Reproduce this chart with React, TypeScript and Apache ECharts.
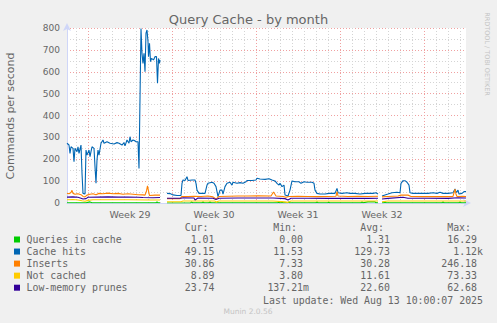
import React, { useEffect, useRef } from "react";
import * as echarts from "echarts";

// x values: hours since Monday 00:00 of week 29
const weekLabels = ["Week 29", "Week 30", "Week 31", "Week 32"];
const weekCenters = [84, 252, 420, 588];

type Pt = [number, number | null];

const cacheHits: Pt[] = [
  [-42, 273], [-38, 265], [-36, 227], [-34, 257], [-30, 250], [-28, 189], [-26, 250], [-22, 235], [-20, 257], [-18, 227],
  [-14, 265], [-12, 136], [-10, 44], [-6, 41], [-4, 242], [-2, 219], [2, 242], [4, 212], [6, 235], [8, 257], [12, 250],
  [14, 166], [16, 90], [18, 197], [20, 242], [22, 219], [26, 273], [30, 288], [32, 273], [38, 280], [44, 273], [52, 270],
  [58, 276], [62, 273], [68, 265], [72, 276], [74, 261], [78, 288], [82, 273], [84, 303], [86, 280], [90, 288], [94, 284],
  [96, 280], [100, 280], [102, 158], [106, 798], [108, 684], [110, 638], [112, 684], [114, 600], [116, 776], [118, 791],
  [120, 737], [121, 669], [123, 730], [125, 646], [127, 661], [131, 654], [134, 669], [137, 669], [139, 547], [141, 661],
  [143, 638], [144, 654], [150, null],
  [158, 44], [164, 43], [170, 37], [178, 34], [186, 34], [188, 90], [190, 105], [194, 103], [198, 120], [200, 103],
  [208, 105], [214, 105], [216, 90], [218, 59], [222, 44], [228, 44], [234, 44], [238, 82], [240, 90], [248, 95],
  [252, 90], [256, 75], [260, 29], [262, 44], [264, 59], [268, 59], [270, 41], [274, 75], [278, 90], [284, 95], [288, 82],
  [290, 95], [298, 90], [304, 93], [310, 90], [316, 97], [318, 103], [328, 103], [336, 105], [338, 113], [344, 110],
  [354, 108], [362, 111], [368, 105], [374, 101], [378, 90], [382, 82], [384, 90], [388, 75], [392, 82], [394, 37],
  [400, 32], [404, 59], [408, 101], [414, 97], [422, 97], [426, 90], [432, 97], [438, 95], [448, 95], [452, 90], [454, 59],
  [458, 44], [464, 41], [474, 41], [482, 44], [488, 44], [494, 44], [498, 67], [500, 47], [508, 44], [518, 47], [524, 44],
  [534, 44], [544, 41], [554, 44], [564, 44], [570, 44], [576, 47], [580, 41], [584, null],
  [588, 32], [594, 37], [600, 41], [608, 47], [618, 49], [624, 47], [626, 90], [630, 102], [634, 102], [638, 95], [642, 82],
  [644, 47], [650, 44], [660, 44], [670, 44], [680, 44], [690, 47], [698, 44], [704, 49], [710, 44], [720, 44], [730, 47],
  [734, 64], [736, 47], [740, 59], [742, 41], [748, 44], [752, 52], [756, 52],
];

const inserts: Pt[] = [
  [-42, 45], [-38, 42], [-34, 48], [-32, 58], [-30, 44], [-26, 40], [-20, 42], [-14, 38], [-10, 30], [-6, 28], [-2, 36],
  [4, 40], [10, 42], [16, 38], [22, 44], [30, 42], [40, 45], [50, 42], [60, 44], [70, 40], [80, 42], [90, 40], [100, 38],
  [110, 37], [114, 36], [117, 55], [119, 78], [121, 55], [123, 34], [134, 36], [144, 36], [150, null],
  [158, 20], [170, 20], [184, 20], [188, 30], [200, 30], [212, 31], [226, 30], [240, 32], [250, 28], [256, 18], [262, 30],
  [280, 31], [300, 32], [320, 32], [340, 33], [366, 32], [371, 50], [376, 32], [390, 30], [396, 26], [402, 30], [420, 31],
  [440, 30], [460, 29], [480, 30], [496, 31], [498, 52], [500, 32], [520, 30], [540, 31], [560, 30], [580, 31], [584, null],
  [588, 28], [600, 30], [620, 32], [626, 36], [640, 36], [646, 30], [670, 29], [700, 30], [720, 29], [730, 30], [734, 63],
  [736, 40], [738, 30], [750, 31], [756, 30],
];

const notCached: Pt[] = [
  [-42, 15], [-30, 16], [-20, 14], [-12, 10], [-6, 8], [0, 12], [10, 15], [40, 15], [80, 15], [120, 14], [144, 14], [150, null],
  [158, 6], [186, 6], [190, 9], [220, 9], [254, 9], [256, 4], [262, 9], [300, 9], [370, 9], [394, 5], [400, 3], [406, 9],
  [500, 9], [580, 9], [584, null],
  [588, 6], [600, 9], [700, 9], [756, 9],
];

const prunes: Pt[] = [
  [-42, 27], [-30, 28], [-20, 26], [-14, 22], [-10, 18], [-4, 20], [0, 26], [20, 27], [40, 28], [60, 27], [80, 27],
  [100, 26], [110, 25], [130, 24], [144, 25], [150, null],
  [158, 22], [186, 22], [190, 24], [212, 23], [214, 14], [220, 23], [250, 22], [256, 16], [262, 22], [300, 23], [340, 23],
  [370, 23], [394, 20], [400, 14], [406, 22], [440, 22], [480, 21], [520, 22], [560, 21], [580, 22], [584, null],
  [588, 18], [600, 21], [630, 26], [640, 22], [680, 22], [720, 21], [740, 24], [756, 23],
];

const queriesInCache: Pt[] = [
  [-42, 1], [-4, 1], [4, 5], [8, 1], [136, 1], [138, 5], [140, 1], [144, 1], [150, null],
  [158, 0], [205, 0], [207, 5], [209, 1], [228, 1], [230, 5], [232, 1], [242, 1], [244, 5], [246, 1], [380, 1], [381, 5],
  [383, 1], [387, 1], [388, 5], [390, 1], [400, 1], [401, 5], [403, 1], [456, 1], [458, 5], [460, 1], [480, 1], [481, 5],
  [483, 1], [546, 1], [548, 5], [550, 1], [560, 5], [567, 5], [574, 5], [576, 1], [580, 1], [584, null],
  [588, 1], [592, 1], [594, 5], [596, 1], [708, 1], [710, 5], [712, 1], [742, 1], [744, 5], [746, 1], [756, 1],
];

const seriesNames = ["Queries in cache", "Cache hits", "Inserts", "Not cached", "Low-memory prunes"];
const seriesColors = ["#00cc00", "#0066b3", "#ff8000", "#ffcc00", "#330099"];
const seriesData = [queriesInCache, cacheHits, inserts, notCached, prunes];

const curValues = ["1.01", "49.15", "30.86", "8.89", "23.74"];
const minValues = ["0.00", "11.53", "7.33", "3.80", "137.21m"];
const avgValues = ["1.31", "129.73", "30.28", "11.61", "22.60"];
const maxValues = ["16.29", "1.12k", "246.18", "73.33", "62.68"];
const columnHeaders = ["Cur:", "Min:", "Avg:", "Max:"];

const FONT = "DejaVu Sans, sans-serif";
const MONO = "DejaVu Sans Mono, monospace";
const TXT = "#666666";

function txt(x: number, y: number, text: string, size: number, opts: any = {}) {
  const align = opts.align || "left";
  return {
    type: "text",
    x,
    y,
    rotation: opts.rotation || 0,
    silent: true,
    style: {
      text,
      fill: opts.color || TXT,
      fontSize: size,
      fontFamily: opts.family || FONT,
      align,
      textAlign: align,
      verticalAlign: "middle",
      textVerticalAlign: "middle",
    },
  };
}

export default function App() {
  const ref = useRef<HTMLDivElement>(null);
  useEffect(() => {
    if (!ref.current) return;
    const chart = echarts.init(ref.current, null, { renderer: "svg" });

    // x split lines every 6 h from -42: day lines at i%4==3, week lines at i%28==7
    const xGridColors: string[] = [];
    for (let i = 0; i < 28; i++) {
      xGridColors.push(i === 7 ? "#f0a0a0" : i % 4 === 3 ? "#d4d4d4" : "rgba(0,0,0,0)");
    }

    const graphic: any[] = [];
    graphic.push(txt(248.5, 19, "Query Cache - by month", 13, { align: "center" }));
    graphic.push(txt(10, 116, "Commands per second", 11, { align: "center", rotation: Math.PI / 2 }));
    graphic.push(txt(487, 54, "RRDTOOL / TOBI OETIKER", 6.5, { align: "center", rotation: -Math.PI / 2, color: "#c4c4c4" }));
    graphic.push(txt(248, 311.5, "Munin 2.0.56", 7.5, { align: "center", color: "#c4c4c4" }));

    const colRight = [214.5, 303, 390, 477];
    const headerY = 227.5;
    columnHeaders.forEach((h, i) => {
      graphic.push(txt(colRight[i] - 6, headerY, h, 9.9, { align: "right", family: MONO }));
    });
    const cols = [curValues, minValues, avgValues, maxValues];
    seriesNames.forEach((name, r) => {
      const y = 239.5 + r * 12.05;
      graphic.push({
        type: "rect",
        silent: true,
        shape: { x: 14, y: y - 3, width: 6, height: 6 },
        style: { fill: seriesColors[r] },
      });
      graphic.push(txt(26.5, y, name, 9.9, { family: MONO }));
      cols.forEach((c, ci) => {
        const v = c[r];
        const suffix = /[a-z]$/i.test(v);
        graphic.push(txt(colRight[ci] + (suffix ? 6 : 0), y, v, 9.9, { align: "right", family: MONO }));
      });
    });
    graphic.push(txt(483, 300, "Last update: Wed Aug 13 10:00:07 2025", 9.9, { align: "right", family: MONO }));

    const option: any = {
      animation: false,
      backgroundColor: "#f0f0f0",
      textStyle: { fontFamily: FONT },
      grid: { left: 67, top: 28, width: 399, height: 175, show: true, backgroundColor: "#ffffff", borderWidth: 0 },
      xAxis: {
        type: "value",
        min: -42,
        max: 756,
        interval: 6,
        axisLine: {
          show: true,
          onZero: false,
          lineStyle: { color: "#cfd6f8", width: 1 },
          symbol: ["none", "arrow"],
          symbolSize: [6, 8],
          symbolOffset: [0, 5],
        },
        axisTick: { show: false },
        splitLine: { show: true, lineStyle: { color: xGridColors, type: [1, 2], width: 1 } },
        axisLabel: {
          show: true,
          margin: 6,
          fontSize: 9.5,
          color: TXT,
          fontFamily: FONT,
          formatter: (v: number) => {
            const i = weekCenters.indexOf(v);
            return i >= 0 ? weekLabels[i] : "";
          },
        },
      },
      yAxis: {
        type: "value",
        min: 0,
        max: 800,
        interval: 100,
        axisLine: {
          show: true,
          onZero: false,
          lineStyle: { color: "#cfd6f8", width: 1 },
          symbol: ["none", "arrow"],
          symbolSize: [6, 8],
          symbolOffset: [0, 5],
        },
        axisTick: { show: false },
        axisLabel: { fontSize: 9, color: TXT, margin: 7, fontFamily: FONT },
        splitLine: { show: true, lineStyle: { color: "#f0a0a0", type: [1, 2], width: 1 } },
        minorTick: { show: false, splitNumber: 2 },
        minorSplitLine: { show: true, lineStyle: { color: "#d4d4d4", type: [1, 2], width: 1 } },
      },
      series: seriesData.map((d, i) => ({
        type: "line",
        name: seriesNames[i],
        data: d.map((p) => [p[0], p[1] === null ? "-" : p[1]]),
        showSymbol: false,
        symbol: "none",
        connectNulls: false,
        clip: true,
        lineStyle: { color: seriesColors[i], width: 1.1 },
        itemStyle: { color: seriesColors[i] },
        z: 3 + i,
      })),
      graphic,
    };
    chart.setOption(option);
    return () => chart.dispose();
  }, []);
  return (
    <div
      ref={ref}
      style={{ position: "fixed", left: 0, top: 0, width: 497, height: 323, background: "#f0f0f0" }}
    />
  );
}
